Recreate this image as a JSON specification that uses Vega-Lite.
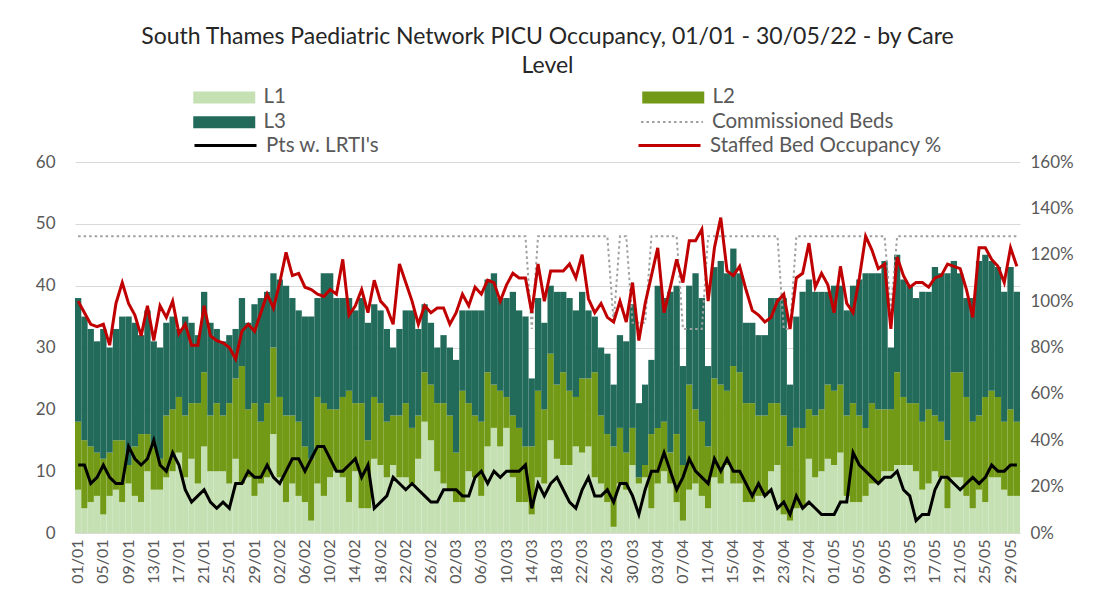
{
"$schema": "https://vega.github.io/schema/vega-lite/v6.json",
"width": 945, "height": 371,
"autosize": {"type": "none"},
"padding": {"left": 75, "top": 162, "right": 86, "bottom": 72},
"background": "white",
"title": {"text": ["South Thames Paediatric Network PICU Occupancy, 01/01 - 30/05/22 - by Care", "Level"], "font": "Lato", "fontSize": 23, "fontWeight": "normal", "color": "#262626", "lineHeight": 29, "anchor": "middle", "offset": 9},
"config": {
 "view": {"stroke": null},
 "axis": {"labelFont": "Lato", "labelColor": "#595959", "ticks": false, "domain": false, "grid": false, "title": null},
 "legend": {"orient": "none", "title": null, "labelFont": "Lato", "labelFontSize": 20.5, "labelColor": "#595959", "labelLimit": 400, "symbolSize": 400, "labelOffset": 50, "rowPadding": 4}
},
"data": {"values": [
{"d":"01/01","L1":7,"L2":11,"L3":20,"cb":48,"k":11,"o":1.00},
{"d":"02/01","L1":4,"L2":11,"L3":20,"cb":48,"k":11,"o":0.95},
{"d":"03/01","L1":5,"L2":9,"L3":19,"cb":48,"k":8,"o":0.90},
{"d":"04/01","L1":6,"L2":7,"L3":18,"cb":48,"k":9,"o":0.89},
{"d":"05/01","L1":3,"L2":9,"L3":21,"cb":48,"k":11,"o":0.90},
{"d":"06/01","L1":6,"L2":7,"L3":17,"cb":48,"k":9,"o":0.81},
{"d":"07/01","L1":7,"L2":8,"L3":18,"cb":48,"k":8,"o":0.99},
{"d":"08/01","L1":5,"L2":10,"L3":20,"cb":48,"k":8,"o":1.08},
{"d":"09/01","L1":8,"L2":3,"L3":24,"cb":48,"k":14,"o":0.99},
{"d":"10/01","L1":6,"L2":8,"L3":20,"cb":48,"k":12,"o":0.94},
{"d":"11/01","L1":5,"L2":11,"L3":16,"cb":48,"k":11,"o":0.85},
{"d":"12/01","L1":10,"L2":6,"L3":20,"cb":48,"k":12,"o":0.98},
{"d":"13/01","L1":7,"L2":7,"L3":17,"cb":48,"k":15,"o":0.83},
{"d":"14/01","L1":7,"L2":5,"L3":18,"cb":48,"k":11,"o":0.98},
{"d":"15/01","L1":9,"L2":10,"L3":15,"cb":48,"k":10,"o":0.93},
{"d":"16/01","L1":10,"L2":10,"L3":15,"cb":48,"k":13,"o":1.00},
{"d":"17/01","L1":13,"L2":9,"L3":11,"cb":48,"k":11,"o":0.86},
{"d":"18/01","L1":9,"L2":10,"L3":16,"cb":48,"k":7,"o":0.90},
{"d":"19/01","L1":12,"L2":9,"L3":13,"cb":48,"k":5,"o":0.81},
{"d":"20/01","L1":8,"L2":13,"L3":11,"cb":48,"k":6,"o":0.81},
{"d":"21/01","L1":14,"L2":12,"L3":13,"cb":48,"k":7,"o":0.98},
{"d":"22/01","L1":10,"L2":9,"L3":15,"cb":48,"k":5,"o":0.85},
{"d":"23/01","L1":10,"L2":11,"L3":12,"cb":48,"k":4,"o":0.83},
{"d":"24/01","L1":10,"L2":9,"L3":12,"cb":48,"k":5,"o":0.82},
{"d":"25/01","L1":8,"L2":13,"L3":11,"cb":48,"k":4,"o":0.80},
{"d":"26/01","L1":12,"L2":13,"L3":8,"cb":48,"k":8,"o":0.75},
{"d":"27/01","L1":8,"L2":19,"L3":11,"cb":48,"k":8,"o":0.87},
{"d":"28/01","L1":9,"L2":11,"L3":14,"cb":48,"k":10,"o":0.90},
{"d":"29/01","L1":6,"L2":15,"L3":16,"cb":48,"k":9,"o":0.87},
{"d":"30/01","L1":8,"L2":10,"L3":20,"cb":48,"k":9,"o":0.95},
{"d":"31/01","L1":9,"L2":12,"L3":18,"cb":48,"k":11,"o":1.03},
{"d":"01/02","L1":16,"L2":14,"L3":12,"cb":48,"k":9,"o":0.97},
{"d":"02/02","L1":9,"L2":13,"L3":19,"cb":48,"k":8,"o":1.08},
{"d":"03/02","L1":5,"L2":14,"L3":21,"cb":48,"k":10,"o":1.21},
{"d":"04/02","L1":8,"L2":11,"L3":19,"cb":48,"k":12,"o":1.11},
{"d":"05/02","L1":6,"L2":12,"L3":18,"cb":48,"k":12,"o":1.12},
{"d":"06/02","L1":5,"L2":9,"L3":21,"cb":48,"k":10,"o":1.06},
{"d":"07/02","L1":2,"L2":10,"L3":23,"cb":48,"k":12,"o":1.05},
{"d":"08/02","L1":8,"L2":14,"L3":16,"cb":48,"k":14,"o":1.03},
{"d":"09/02","L1":6,"L2":15,"L3":21,"cb":48,"k":14,"o":1.02},
{"d":"10/02","L1":9,"L2":11,"L3":22,"cb":48,"k":12,"o":1.05},
{"d":"11/02","L1":10,"L2":10,"L3":18,"cb":48,"k":10,"o":1.03},
{"d":"12/02","L1":9,"L2":13,"L3":16,"cb":48,"k":10,"o":1.18},
{"d":"13/02","L1":5,"L2":18,"L3":15,"cb":48,"k":11,"o":0.94},
{"d":"14/02","L1":10,"L2":11,"L3":15,"cb":48,"k":12,"o":0.98},
{"d":"15/02","L1":4,"L2":17,"L3":17,"cb":48,"k":9,"o":1.05},
{"d":"16/02","L1":4,"L2":11,"L3":19,"cb":48,"k":11,"o":0.95},
{"d":"17/02","L1":12,"L2":10,"L3":15,"cb":48,"k":4,"o":1.09},
{"d":"18/02","L1":11,"L2":10,"L3":15,"cb":48,"k":5,"o":1.00},
{"d":"19/02","L1":9,"L2":9,"L3":15,"cb":48,"k":6,"o":0.97},
{"d":"20/02","L1":11,"L2":8,"L3":11,"cb":48,"k":9,"o":0.90},
{"d":"21/02","L1":9,"L2":10,"L3":14,"cb":48,"k":8,"o":1.16},
{"d":"22/02","L1":9,"L2":12,"L3":15,"cb":48,"k":7,"o":1.08},
{"d":"23/02","L1":8,"L2":9,"L3":19,"cb":48,"k":8,"o":1.00},
{"d":"24/02","L1":12,"L2":7,"L3":14,"cb":48,"k":7,"o":0.90},
{"d":"25/02","L1":18,"L2":8,"L3":11,"cb":48,"k":6,"o":0.98},
{"d":"26/02","L1":15,"L2":9,"L3":10,"cb":48,"k":5,"o":0.95},
{"d":"27/02","L1":10,"L2":11,"L3":9,"cb":48,"k":5,"o":0.97},
{"d":"28/02","L1":8,"L2":13,"L3":11,"cb":48,"k":7,"o":0.97},
{"d":"01/03","L1":7,"L2":12,"L3":11,"cb":48,"k":7,"o":0.90},
{"d":"02/03","L1":5,"L2":8,"L3":15,"cb":48,"k":7,"o":0.95},
{"d":"03/03","L1":5,"L2":18,"L3":13,"cb":48,"k":6,"o":1.03},
{"d":"04/03","L1":10,"L2":11,"L3":15,"cb":48,"k":6,"o":0.98},
{"d":"05/03","L1":9,"L2":10,"L3":17,"cb":48,"k":9,"o":1.06},
{"d":"06/03","L1":6,"L2":12,"L3":18,"cb":48,"k":10,"o":1.03},
{"d":"07/03","L1":14,"L2":12,"L3":15,"cb":48,"k":8,"o":1.09},
{"d":"08/03","L1":17,"L2":7,"L3":18,"cb":48,"k":10,"o":1.08},
{"d":"09/03","L1":14,"L2":9,"L3":15,"cb":48,"k":9,"o":1.00},
{"d":"10/03","L1":17,"L2":5,"L3":16,"cb":48,"k":10,"o":1.07},
{"d":"11/03","L1":9,"L2":10,"L3":20,"cb":48,"k":10,"o":1.12},
{"d":"12/03","L1":5,"L2":12,"L3":19,"cb":48,"k":10,"o":1.10},
{"d":"13/03","L1":5,"L2":9,"L3":21,"cb":48,"k":11,"o":1.10},
{"d":"14/03","L1":3,"L2":11,"L3":11,"cb":33,"k":4,"o":0.95},
{"d":"15/03","L1":9,"L2":14,"L3":15,"cb":48,"k":8,"o":1.16},
{"d":"16/03","L1":8,"L2":12,"L3":14,"cb":48,"k":6,"o":1.00},
{"d":"17/03","L1":15,"L2":14,"L3":11,"cb":48,"k":8,"o":1.13},
{"d":"18/03","L1":12,"L2":12,"L3":15,"cb":48,"k":9,"o":1.13},
{"d":"19/03","L1":11,"L2":15,"L3":13,"cb":48,"k":7,"o":1.13},
{"d":"20/03","L1":11,"L2":12,"L3":15,"cb":48,"k":5,"o":1.16},
{"d":"21/03","L1":14,"L2":8,"L3":14,"cb":48,"k":4,"o":1.10},
{"d":"22/03","L1":13,"L2":12,"L3":14,"cb":48,"k":7,"o":1.20},
{"d":"23/03","L1":14,"L2":11,"L3":11,"cb":48,"k":9,"o":1.01},
{"d":"24/03","L1":9,"L2":17,"L3":9,"cb":48,"k":6,"o":0.95},
{"d":"25/03","L1":8,"L2":11,"L3":11,"cb":48,"k":6,"o":0.99},
{"d":"26/03","L1":5,"L2":11,"L3":13,"cb":48,"k":7,"o":0.93},
{"d":"27/03","L1":1,"L2":13,"L3":10,"cb":34,"k":5,"o":0.91},
{"d":"28/03","L1":8,"L2":9,"L3":15,"cb":48,"k":8,"o":1.00},
{"d":"29/03","L1":7,"L2":6,"L3":18,"cb":48,"k":8,"o":0.91},
{"d":"30/03","L1":11,"L2":6,"L3":20,"cb":34,"k":6,"o":1.08},
{"d":"31/03","L1":8,"L2":1,"L3":12,"cb":34,"k":3,"o":0.83},
{"d":"01/04","L1":9,"L2":2,"L3":13,"cb":34,"k":7,"o":0.99},
{"d":"02/04","L1":4,"L2":12,"L3":12,"cb":48,"k":10,"o":1.11},
{"d":"03/04","L1":8,"L2":9,"L3":23,"cb":48,"k":10,"o":1.23},
{"d":"04/04","L1":10,"L2":8,"L3":20,"cb":48,"k":13,"o":0.95},
{"d":"05/04","L1":8,"L2":5,"L3":26,"cb":48,"k":10,"o":1.06},
{"d":"06/04","L1":5,"L2":11,"L3":24,"cb":48,"k":7,"o":1.18},
{"d":"07/04","L1":2,"L2":9,"L3":16,"cb":33,"k":9,"o":1.08},
{"d":"08/04","L1":7,"L2":17,"L3":16,"cb":33,"k":12,"o":1.26},
{"d":"09/04","L1":8,"L2":12,"L3":22,"cb":33,"k":10,"o":1.26},
{"d":"10/04","L1":6,"L2":12,"L3":20,"cb":33,"k":9,"o":1.31},
{"d":"11/04","L1":4,"L2":10,"L3":13,"cb":48,"k":8,"o":1.00},
{"d":"12/04","L1":9,"L2":16,"L3":18,"cb":48,"k":12,"o":1.23},
{"d":"13/04","L1":8,"L2":16,"L3":20,"cb":48,"k":10,"o":1.36},
{"d":"14/04","L1":11,"L2":12,"L3":19,"cb":48,"k":12,"o":1.13},
{"d":"15/04","L1":8,"L2":19,"L3":19,"cb":48,"k":10,"o":1.11},
{"d":"16/04","L1":8,"L2":18,"L3":16,"cb":48,"k":10,"o":1.15},
{"d":"17/04","L1":5,"L2":16,"L3":13,"cb":48,"k":8,"o":1.05},
{"d":"18/04","L1":5,"L2":16,"L3":13,"cb":48,"k":6,"o":0.96},
{"d":"19/04","L1":6,"L2":13,"L3":13,"cb":48,"k":8,"o":0.94},
{"d":"20/04","L1":6,"L2":13,"L3":13,"cb":48,"k":6,"o":0.91},
{"d":"21/04","L1":10,"L2":11,"L3":17,"cb":48,"k":7,"o":0.93},
{"d":"22/04","L1":11,"L2":10,"L3":17,"cb":48,"k":4,"o":1.00},
{"d":"23/04","L1":3,"L2":16,"L3":19,"cb":33,"k":5,"o":1.03},
{"d":"24/04","L1":2,"L2":12,"L3":10,"cb":33,"k":3,"o":0.88},
{"d":"25/04","L1":4,"L2":13,"L3":18,"cb":48,"k":6,"o":1.10},
{"d":"26/04","L1":4,"L2":13,"L3":22,"cb":48,"k":4,"o":1.12},
{"d":"27/04","L1":12,"L2":8,"L3":21,"cb":48,"k":5,"o":1.25},
{"d":"28/04","L1":9,"L2":10,"L3":20,"cb":48,"k":4,"o":1.06},
{"d":"29/04","L1":10,"L2":10,"L3":19,"cb":48,"k":3,"o":1.12},
{"d":"30/04","L1":12,"L2":12,"L3":15,"cb":48,"k":3,"o":1.07},
{"d":"01/05","L1":11,"L2":12,"L3":17,"cb":48,"k":3,"o":0.95},
{"d":"02/05","L1":13,"L2":11,"L3":16,"cb":48,"k":5,"o":1.15},
{"d":"03/05","L1":6,"L2":13,"L3":17,"cb":48,"k":5,"o":0.99},
{"d":"04/05","L1":5,"L2":16,"L3":19,"cb":48,"k":13,"o":0.95},
{"d":"05/05","L1":5,"L2":14,"L3":22,"cb":48,"k":11,"o":1.10},
{"d":"06/05","L1":6,"L2":11,"L3":25,"cb":48,"k":10,"o":1.28},
{"d":"07/05","L1":8,"L2":13,"L3":21,"cb":48,"k":9,"o":1.22},
{"d":"08/05","L1":8,"L2":12,"L3":22,"cb":48,"k":8,"o":1.14},
{"d":"09/05","L1":10,"L2":10,"L3":24,"cb":48,"k":9,"o":1.16},
{"d":"10/05","L1":10,"L2":10,"L3":10,"cb":36,"k":9,"o":0.88},
{"d":"11/05","L1":11,"L2":15,"L3":19,"cb":48,"k":10,"o":1.19},
{"d":"12/05","L1":11,"L2":11,"L3":19,"cb":48,"k":7,"o":1.11},
{"d":"13/05","L1":11,"L2":10,"L3":19,"cb":48,"k":6,"o":1.06},
{"d":"14/05","L1":10,"L2":11,"L3":17,"cb":48,"k":2,"o":1.08},
{"d":"15/05","L1":7,"L2":11,"L3":21,"cb":48,"k":3,"o":1.08},
{"d":"16/05","L1":8,"L2":12,"L3":19,"cb":48,"k":3,"o":1.06},
{"d":"17/05","L1":10,"L2":9,"L3":24,"cb":48,"k":7,"o":1.10},
{"d":"18/05","L1":9,"L2":9,"L3":24,"cb":48,"k":9,"o":1.11},
{"d":"19/05","L1":4,"L2":11,"L3":27,"cb":48,"k":9,"o":1.16},
{"d":"20/05","L1":9,"L2":17,"L3":18,"cb":48,"k":8,"o":1.15},
{"d":"21/05","L1":9,"L2":17,"L3":16,"cb":48,"k":7,"o":1.14},
{"d":"22/05","L1":6,"L2":16,"L3":16,"cb":48,"k":8,"o":1.05},
{"d":"23/05","L1":4,"L2":14,"L3":20,"cb":48,"k":9,"o":0.93},
{"d":"24/05","L1":7,"L2":12,"L3":25,"cb":48,"k":8,"o":1.23},
{"d":"25/05","L1":5,"L2":17,"L3":23,"cb":48,"k":9,"o":1.23},
{"d":"26/05","L1":9,"L2":14,"L3":21,"cb":48,"k":11,"o":1.18},
{"d":"27/05","L1":9,"L2":13,"L3":21,"cb":48,"k":10,"o":1.15},
{"d":"28/05","L1":7,"L2":11,"L3":21,"cb":48,"k":10,"o":1.08},
{"d":"29/05","L1":6,"L2":14,"L3":23,"cb":48,"k":11,"o":1.23},
{"d":"30/05","L1":6,"L2":12,"L3":21,"cb":48,"k":11,"o":1.15}
]},
"layer": [
 {
  "transform": [{"fold": ["L1", "L2", "L3"], "as": ["series", "value"]}],
  "mark": {"type": "bar"},
  "encoding": {
   "x": {"field": "d", "type": "ordinal", "sort": null, "scale": {"paddingInner": 0, "paddingOuter": 0},
     "axis": {"values": ["01/01","05/01","09/01","13/01","17/01","21/01","25/01","29/01","02/02","06/02","10/02","14/02","18/02","22/02","26/02","02/03","06/03","10/03","14/03","18/03","22/03","26/03","30/03","03/04","07/04","11/04","15/04","19/04","23/04","27/04","01/05","05/05","09/05","13/05","17/05","21/05","25/05","29/05"],
       "labelAngle": -90, "labelFontSize": 16, "labelPadding": 6, "domain": true, "domainColor": "#d9d9d9"}},
   "y": {"field": "value", "type": "quantitative", "stack": "zero", "scale": {"domain": [0, 60]},
     "axis": {"values": [0,10,20,30,40,50,60], "grid": true, "gridColor": "#d9d9d9", "labelFontSize": 17, "labelPadding": 20}},
   "color": {"field": "series", "type": "nominal",
     "scale": {"domain": ["L1", "L2", "L3"], "range": ["#c5e0b3", "#739a17", "#226b5b"]},
     "legend": {"legendX": 118, "legendY": -75, "columns": 2, "direction": "horizontal", "columnPadding": 356,
       "symbolType": "M-1,-0.6H5.2V0.6H-1Z", "symbolStrokeWidth": 0}},
   "order": {"field": "series", "sort": "ascending"}
  }
 },
 {
  "mark": {"type": "line", "strokeWidth": 2, "color": "#a0a0a0"},
  "encoding": {
   "x": {"field": "d", "type": "ordinal", "sort": null},
   "y": {"field": "cb", "type": "quantitative", "scale": {"domain": [0, 60]}, "axis": null},
   "strokeDash": {"datum": "Commissioned Beds", "scale": {"domain": ["Commissioned Beds"], "range": [[2.5, 3]]},
     "legend": {"legendX": 565, "legendY": -51, "symbolType": "M-1,0H5.2", "symbolStrokeColor": "#a0a0a0", "symbolStrokeWidth": 2, "symbolFillColor": "transparent"}}
  }
 },
 {
  "mark": {"type": "line", "strokeWidth": 3},
  "encoding": {
   "x": {"field": "d", "type": "ordinal", "sort": null},
   "y": {"field": "k", "type": "quantitative", "scale": {"domain": [0, 60]}, "axis": null},
   "stroke": {"datum": "Pts w. LRTI's", "scale": {"domain": ["Pts w. LRTI's", "Staffed Bed Occupancy %"], "range": ["#000000", "#c00000"]},
     "legend": {"legendX": 118, "legendY": -28, "columns": 2, "columnPadding": 252, "symbolType": "M-1,0H5.2", "symbolStrokeWidth": 3, "symbolFillColor": "transparent"}}
  }
 },
 {
  "mark": {"type": "line", "strokeWidth": 3},
  "encoding": {
   "x": {"field": "d", "type": "ordinal", "sort": null},
   "y": {"field": "o", "type": "quantitative", "scale": {"domain": [0, 1.6]},
     "axis": {"orient": "right", "format": ".0%", "values": [0,0.2,0.4,0.6,0.8,1.0,1.2,1.4,1.6], "labelFontSize": 17, "labelPadding": 10, "grid": false}},
   "stroke": {"datum": "Staffed Bed Occupancy %"}
  }
 }
],
"resolve": {"scale": {"y": "independent"}}
}
